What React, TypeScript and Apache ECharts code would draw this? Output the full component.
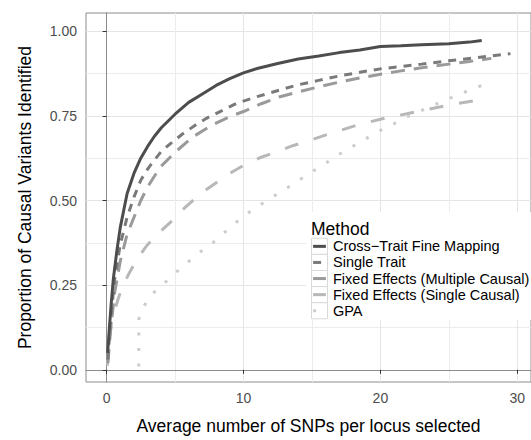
import React, { useEffect, useRef } from "react";
import * as echarts from "echarts";

const methodNames = [
  "Cross\u2212Trait Fine Mapping",
  "Single Trait",
  "Fixed Effects (Multiple Causal)",
  "Fixed Effects (Single Causal)",
  "GPA",
];

const crossX = [0.08, 0.2, 0.35, 0.5, 0.75, 1.0, 1.5, 2.0, 2.5, 3.0, 3.5, 4.0, 5.0, 6.0, 7.0, 8.0, 9.0, 10.0, 11.0, 12.5, 14.0, 15.5, 17.0, 18.5, 20.0, 21.5, 23.0, 25.0, 26.5, 27.4];
const crossY = [0.05, 0.12, 0.2, 0.27, 0.35, 0.42, 0.52, 0.58, 0.625, 0.66, 0.69, 0.715, 0.755, 0.79, 0.815, 0.84, 0.86, 0.877, 0.89, 0.905, 0.918, 0.927, 0.937, 0.945, 0.955, 0.957, 0.96, 0.963, 0.968, 0.973];

const singleX = [0.1, 0.3, 0.6, 1.0, 1.5, 2.0, 2.5, 3.0, 3.5, 4.0, 4.6, 5.5, 6.5, 7.3, 8.5, 9.5, 11.0, 12.6, 14.0, 15.5, 17.0, 18.5, 20.0, 21.5, 23.0, 25.0, 27.0, 29.5];
const singleY = [0.03, 0.15, 0.27, 0.37, 0.45, 0.51, 0.56, 0.593, 0.62, 0.645, 0.666, 0.695, 0.723, 0.743, 0.767, 0.787, 0.807, 0.826, 0.842, 0.855, 0.868, 0.879, 0.889, 0.896, 0.903, 0.913, 0.922, 0.934];

const multiX = [0.1, 0.3, 0.6, 1.0, 1.5, 2.0, 2.5, 3.0, 3.9, 5.1, 6.3, 7.75, 9.0, 10.0, 11.3, 12.6, 14.0, 15.5, 17.0, 18.5, 20.1, 21.5, 23.0, 25.0, 26.5, 28.1];
const multiY = [0.02, 0.12, 0.23, 0.32, 0.4, 0.45, 0.5, 0.54, 0.598, 0.646, 0.688, 0.724, 0.748, 0.763, 0.786, 0.806, 0.821, 0.836, 0.85, 0.862, 0.874, 0.883, 0.892, 0.903, 0.911, 0.92];

const fixedSingleX = [0.05, 0.36, 0.85, 1.2, 1.69, 2.2, 2.9, 3.7, 4.6, 5.4, 6.3, 7.2, 8.24, 9.2, 10.18, 11.3, 12.6, 13.6, 14.7, 16.5, 18.4, 20.3, 22.5, 25.0, 27.75];
const fixedSingleY = [0.012, 0.142, 0.21, 0.25, 0.288, 0.325, 0.365, 0.4, 0.433, 0.467, 0.5, 0.53, 0.559, 0.585, 0.608, 0.628, 0.646, 0.662, 0.676, 0.7, 0.724, 0.743, 0.761, 0.782, 0.801];

const gpaX = [2.35, 2.36, 2.6, 3.0, 3.5, 4.36, 5.2, 6.06, 6.9, 7.75, 8.6, 9.45, 10.4, 11.4, 12.3, 13.1, 14.06, 15.0, 16.0, 17.0, 18.4, 19.9, 21.0, 22.1, 23.5, 25.0, 26.0, 27.15, 28.2];
const gpaY = [0.01, 0.15, 0.18, 0.205, 0.23, 0.261, 0.292, 0.322, 0.35, 0.375, 0.405, 0.435, 0.465, 0.492, 0.515, 0.535, 0.56, 0.585, 0.61, 0.637, 0.67, 0.705, 0.727, 0.75, 0.775, 0.801, 0.818, 0.836, 0.852];

const xMajorTicks = [0, 10, 20, 30];
const xMinorTicks = [5, 15, 25];
const yMajorTicks = [0, 0.25, 0.5, 0.75, 1.0];
const yMinorTicks = [0.125, 0.375, 0.625, 0.875];

const xTitle = "Average number of SNPs per locus selected";
const yTitle = "Proportion of Causal Variants Identified";
const legendTitle = "Method";

const seriesX = [crossX, singleX, multiX, fixedSingleX, gpaX];
const seriesY = [crossY, singleY, multiY, fixedSingleY, gpaY];

const colors = ["#4d4d4d", "#7a7a7a", "#9a9a9a", "#b8b8b8", "#cccccc"];
const dashes: (number[] | null)[] = [null, [8, 7], [14, 9], [14, 16], [3, 12.5]];
const FONT = "'Liberation Sans', Arial, Helvetica, sans-serif";

export default function App() {
  const ref = useRef<HTMLDivElement>(null);
  useEffect(() => {
    if (!ref.current) return;
    const chart = echarts.init(ref.current, undefined, { renderer: "svg" });

    const series = methodNames.map((name, i) => ({
      name,
      type: "line",
      xAxisIndex: 0,
      yAxisIndex: 0,
      showSymbol: false,
      symbol: "none",
      smooth: false,
      data: seriesX[i].map((x, j) => [x, seriesY[i][j]]),
      lineStyle: {
        color: colors[i],
        width: 3,
        type: dashes[i] ? dashes[i] : "solid",
        cap: "butt",
      },
      z: 10 - i,
    }));

    const legendX = 311.5;
    const rowTop = 238.3;
    const rowH = 16.1;
    const graphics: any[] = [
      {
        type: "rect",
        shape: { x: 306, y: 212, width: 230, height: 108 },
        style: { fill: "#ffffff" },
        z: 50,
      },
      {
        type: "text",
        x: 311,
        y: 229,
        style: {
          text: legendTitle,
          font: `17.5px ${FONT}`,
          fill: "#000000",
          verticalAlign: "middle",
          align: "left",
        },
        z: 51,
      },
    ];
    methodNames.forEach((name, i) => {
      const top = rowTop + i * rowH;
      graphics.push({
        type: "rect",
        shape: { x: legendX, y: top, width: 16, height: rowH },
        style: { fill: "#ffffff", stroke: "#d9d9d9", lineWidth: 1 },
        z: 51,
      });
      graphics.push({
        type: "line",
        shape: { x1: legendX + 1.6, y1: top + rowH / 2, x2: legendX + 14.4, y2: top + rowH / 2 },
        style: {
          stroke: colors[i],
          lineWidth: 3,
          lineDash: dashes[i] ? dashes[i] : null,
          lineCap: "butt",
        },
        z: 52,
      });
      graphics.push({
        type: "text",
        x: 333,
        y: top + rowH / 2,
        style: {
          text: name,
          font: `14.5px ${FONT}`,
          fill: "#000000",
          verticalAlign: "middle",
          align: "left",
        },
        z: 52,
      });
    });

    const option: any = {
      animation: false,
      backgroundColor: "#ffffff",
      textStyle: { fontFamily: FONT },
      grid: {
        left: 86,
        right: -2,
        top: 13,
        bottom: 52,
        show: true,
        borderColor: "#8c8c8c",
        borderWidth: 1,
        backgroundColor: "transparent",
      },
      xAxis: [
        {
          type: "value",
          min: -1.5,
          max: 31,
          position: "bottom",
          axisLine: { show: true, lineStyle: { color: "#8c8c8c", width: 1 } },
          axisTick: { show: true, length: 4, lineStyle: { color: "#333333" }, customValues: xMajorTicks },
          axisLabel: {
            customValues: xMajorTicks,
            color: "#4d4d4d",
            fontSize: 14,
            fontFamily: FONT,
            margin: 9,
            formatter: (v: number) => String(v),
          },
          splitLine: { show: true, lineStyle: { color: "#e5e5e5", width: 1 } },
          name: xTitle,
          nameLocation: "middle",
          nameGap: 35,
          nameTextStyle: { fontSize: 17.5, color: "#000000", fontFamily: FONT },
        },
        {
          type: "value",
          min: -1.5,
          max: 31,
          position: "top",
          axisLine: { show: false },
          axisTick: { show: false, customValues: xMinorTicks },
          axisLabel: { show: false, customValues: xMinorTicks },
          splitLine: { show: true, lineStyle: { color: "#ececec", width: 1 } },
        },
      ],
      yAxis: [
        {
          type: "value",
          min: -0.036,
          max: 1.054,
          position: "left",
          axisLine: { show: true, lineStyle: { color: "#8c8c8c", width: 1 } },
          axisTick: { show: true, length: 4, lineStyle: { color: "#333333" }, customValues: yMajorTicks },
          axisLabel: {
            customValues: yMajorTicks,
            color: "#4d4d4d",
            fontSize: 14,
            fontFamily: FONT,
            margin: 9,
            formatter: (v: number) => v.toFixed(2),
          },
          splitLine: { show: true, lineStyle: { color: "#e5e5e5", width: 1 } },
          name: yTitle,
          nameLocation: "middle",
          nameGap: 52,
          nameTextStyle: { fontSize: 17.5, color: "#000000", fontFamily: FONT },
        },
        {
          type: "value",
          min: -0.036,
          max: 1.054,
          position: "right",
          axisLine: { show: false },
          axisTick: { show: false, customValues: yMinorTicks },
          axisLabel: { show: false, customValues: yMinorTicks },
          splitLine: { show: true, lineStyle: { color: "#ececec", width: 1 } },
        },
      ],
      series,
      graphic: graphics,
    };
    chart.setOption(option);
    return () => chart.dispose();
  }, []);

  return (
    <div
      ref={ref}
      style={{ position: "fixed", left: 0, top: 0, width: 531, height: 440 }}
    />
  );
}
